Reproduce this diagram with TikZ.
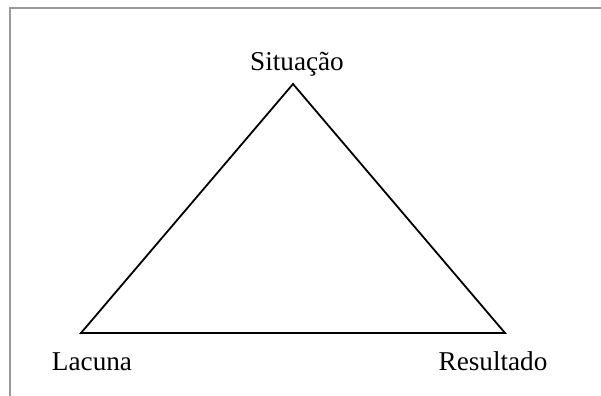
\documentclass[tikz,border=0pt]{standalone}
\usepackage{fontspec}
\setmainfont{Liberation Serif}
\usepackage{tikz}

\begin{document}
\begin{tikzpicture}[x=0.5pt, y=-0.5pt, font=\fontsize{13.6}{16}\selectfont]
            % Marco
            \useasboundingbox (0,0) rectangle (601,396);
            \draw[black!40, line width=1pt] (10, 396) -- (10, 8) -- (601, 8);

            % Vertices
            \coordinate (S) at (293, 84);
            \coordinate (L) at (81, 333);
            \coordinate (R) at (505, 333);

            % Triangulo
            \draw[black, line width=0.9pt, line join=miter] (S) -- (R) -- (L) -- cycle;

            % Etiquetas
            \node[anchor=base] (sit) at (297, 70) {Situação};
            \node[anchor=base] (lac) at (92, 370) {Lacuna};
            \node[anchor=base] (res) at (493, 370) {Resultado};
        \end{tikzpicture}
\end{document}
